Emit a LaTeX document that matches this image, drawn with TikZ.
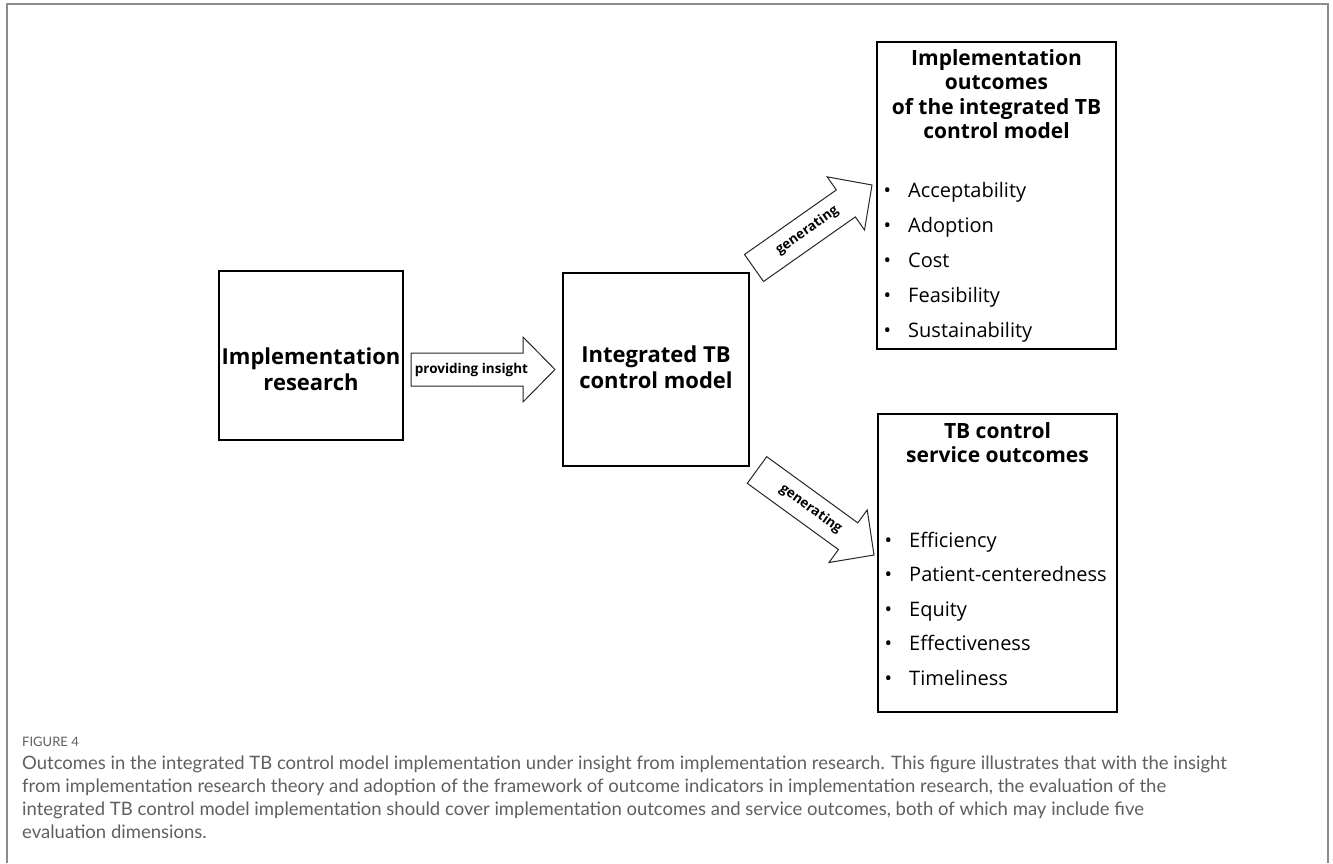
\documentclass[tikz,border=0pt]{standalone}
\usepackage{fontspec}
\setmainfont{Open Sans}
\newfontfamily\capfont{Lato}
\usepackage{tikz}
\usetikzlibrary{calc}
\usepackage{xcolor}

\definecolor{framegray}{RGB}{140,140,140}
\definecolor{captiongray}{RGB}{95,95,95}

% block arrow: #1 tail coordinate, #2 tip coordinate, #3 label, #4 label position
\newcommand{\blockarrow}[4]{%
  \coordinate (#1-neck) at ($(#2)!\headlen!(#1)$);
  \draw[blockline] ($(#1)!\bodyhw!90:(#2)$) -- ($(#1-neck)!\bodyhw!90:(#2)$)
    -- ($(#1-neck)!\headhw!90:(#2)$) -- (#2)
    -- ($(#1-neck)!\headhw!-90:(#2)$) -- ($(#1-neck)!\bodyhw!-90:(#2)$)
    -- ($(#1)!\bodyhw!-90:(#2)$) -- cycle;
  \path (#1) -- (#1-neck) node[pos=#4, sloped, arrowlabel] (#1-label) {#3};
}

\begin{document}
\begin{tikzpicture}[x=1pt, y=-1pt,
    box/.style={draw, line width=1.8pt, inner sep=0pt},
    boxtitle/.style={font=\bfseries\fontsize{22}{26}\selectfont, align=center, inner sep=0pt},
    listtitle/.style={font=\bfseries\fontsize{21}{24.5}\selectfont, align=center, inner sep=0pt},
    listitem/.style={font=\fontsize{20}{24}\selectfont, anchor=base west, inner sep=0pt},
    blockline/.style={draw=black!85, line width=1pt, fill=white},
    arrowlabel/.style={font=\bfseries\fontsize{13.5}{16}\selectfont, inner sep=0pt}]

    % ==========================================
    % DEFINE PARAMETERS & COORDINATES
    % ==========================================

    \def\bodyhw{16.5pt} % half width of arrow body
    \def\headhw{32.5pt} % half width of arrow head
    \def\headlen{32pt}  % length of arrow head

    \useasboundingbox (0,0) rectangle (1333,863);

    % arrow end points
    \coordinate (insTail) at (411,369.5);
    \coordinate (insTip)  at (555,369.5);
    \coordinate (upTail)  at (754,268);
    \coordinate (upTip)   at (872,185);
    \coordinate (lowTail) at (757,470);
    \coordinate (lowTip)  at (874,555);

    % ==========================================
    % OUTER FRAME
    % ==========================================

    \draw[framegray, line width=2pt] (7,863) -- (7,4) -- (1328,4) -- (1328,863);

    % ==========================================
    % BOXES
    % ==========================================

    \node[box, minimum width=184, minimum height=169] (research) at (311,355.5) {};
    \node[boxtitle] (researchText) at (311,369) {Implementation\\research};

    \node[box, minimum width=186, minimum height=193] (model) at (656,369.5) {};
    \node[boxtitle] (modelText) at (656,367) {Integrated TB\\control model};

    \node[box, minimum width=239, minimum height=307] (implOut) at (996.5,195.5) {};
    \node[listtitle] (implTitle) at (996.5,94) {Implementation\\outcomes\\of the integrated TB\\control model};
    \foreach \txt [count=\i] in {Acceptability, Adoption, Cost, Feasibility, Sustainability}
        \node[listitem] (impl-\i) at (883.5,{197+35*(\i-1)}) {\makebox[24.5pt][l]{\textbullet}\txt};

    \node[box, minimum width=239, minimum height=298] (serviceOut) at (997.5,563) {};
    \node[listtitle] (serviceTitle) at (997.5,442.5) {TB control\\service outcomes};
    \foreach \txt [count=\i] in {Efficiency, Patient-centeredness, Equity, Effectiveness, Timeliness}
        \node[listitem] (service-\i) at (884.5,{547+34.5*(\i-1)}) {\makebox[24.5pt][l]{\textbullet}\txt};

    % ==========================================
    % BLOCK ARROWS
    % ==========================================

    \blockarrow{insTail}{insTip}{providing insight}{0.54}
    \blockarrow{upTail}{upTip}{generating}{0.58}
    \blockarrow{lowTail}{lowTip}{generating}{0.59}

    % ==========================================
    % CAPTION
    % ==========================================

    \node[anchor=base west, inner sep=0pt, text=captiongray, font=\capfont\fontsize{13}{15}\selectfont] (figLabel) at (22,746) {FIGURE 4};
    \node[anchor=north west, inner sep=0pt, align=left, text=captiongray, font=\capfont\fontsize{18.5}{23}\selectfont] (caption) at (22,756)
        {Outcomes in the integrated TB control model implementation under insight from implementation research. This figure illustrates that with the insight\\
         from implementation research theory and adoption of the framework of outcome indicators in implementation research, the evaluation of the\\
         integrated TB control model implementation should cover implementation outcomes and service outcomes, both of which may include five\\
         evaluation dimensions.};

\end{tikzpicture}
\end{document}
